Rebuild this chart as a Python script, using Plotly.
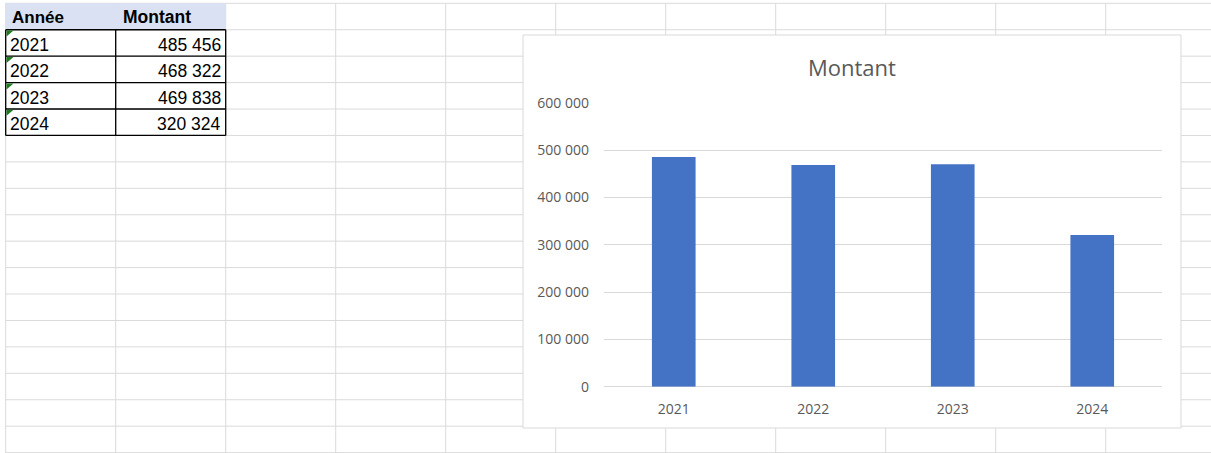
import plotly.graph_objects as go

# ---- data ----
annees = ["2021", "2022", "2023", "2024"]
montants = [485456, 468322, 469838, 320324]
header = ["Année", "Montant"]
chart_title = "Montant"
y_ticks = [0, 100000, 200000, 300000, 400000, 500000, 600000]

W, H = 1211, 453


def px(x):
    return x / W


def py(y):
    return 1 - y / H


def fmt(v):
    return f"{v:,}".replace(",", " ")


shapes = []
annotations = []
GRID = "#dadada"

# spreadsheet grid
col_x = [5.7 + 110 * k for k in range(11)]
row_y = [3.3 + 26.43 * k for k in range(18)]
for x in col_x:
    shapes.append(dict(type="line", xref="paper", yref="paper", x0=px(x), x1=px(x),
                       y0=py(row_y[0]), y1=py(H), line=dict(color=GRID, width=1), layer="below"))
for y in row_y:
    shapes.append(dict(type="line", xref="paper", yref="paper", x0=px(col_x[0]), x1=px(W),
                       y0=py(y), y1=py(y), line=dict(color=GRID, width=1), layer="below"))

# header fill
shapes.append(dict(type="rect", xref="paper", yref="paper", x0=px(col_x[0]), x1=px(col_x[2]),
                   y0=py(row_y[0]), y1=py(row_y[1]), fillcolor="#D9E1F2",
                   line=dict(width=0), layer="below"))

# table borders (data rows)
n = len(annees)
for i in range(n + 1):
    y = row_y[1 + i]
    shapes.append(dict(type="line", xref="paper", yref="paper", x0=px(col_x[0]), x1=px(col_x[2]),
                       y0=py(y), y1=py(y), line=dict(color="black", width=1.3), layer="below"))
for x in col_x[:3]:
    shapes.append(dict(type="line", xref="paper", yref="paper", x0=px(x), x1=px(x),
                       y0=py(row_y[1]), y1=py(row_y[1 + n]), line=dict(color="black", width=1.3), layer="below"))

# green triangles
for i in range(n):
    x0 = col_x[0] + 0.8
    y0 = row_y[1 + i] + 0.8
    path = f"M {px(x0)},{py(y0)} L {px(x0 + 7)},{py(y0)} L {px(x0)},{py(y0 + 6)} Z"
    shapes.append(dict(type="path", xref="paper", yref="paper", path=path,
                       fillcolor="#1E7B1E", line=dict(width=0), layer="below"))

TFONT = "Liberation Sans"
# header texts
annotations.append(dict(x=px(10), y=py((row_y[0] + row_y[1]) / 2 + 0.5), xref="paper", yref="paper",
                        text=f"<b>{header[0]}</b>", showarrow=False, xanchor="left", yanchor="middle",
                        font=dict(family=TFONT, size=17, color="black")))
annotations.append(dict(x=px(120.5), y=py((row_y[0] + row_y[1]) / 2 + 0.5), xref="paper", yref="paper",
                        text=f"<b>{header[1]}</b>", showarrow=False, xanchor="left", yanchor="middle",
                        font=dict(family=TFONT, size=17.5, color="black")))
for i, (a, m) in enumerate(zip(annees, montants)):
    yc = (row_y[1 + i] + row_y[2 + i]) / 2 + 2
    annotations.append(dict(x=px(8), y=py(yc), xref="paper", yref="paper", text=a,
                            showarrow=False, xanchor="left", yanchor="middle",
                            font=dict(family=TFONT, size=17.5, color="black")))
    annotations.append(dict(x=px(223), y=py(yc), xref="paper", yref="paper", text=fmt(m),
                            showarrow=False, xanchor="right", yanchor="middle",
                            font=dict(family=TFONT, size=17.5, color="black")))

# chart box
shapes.append(dict(type="rect", xref="paper", yref="paper", x0=px(523), x1=px(1181),
                   y0=py(428), y1=py(35), fillcolor="white",
                   line=dict(color="#d9d9d9", width=1), layer="below"))

CFONT = "Open Sans"
annotations.append(dict(x=px(852), y=py(67), xref="paper", yref="paper", text=chart_title,
                        showarrow=False, xanchor="center", yanchor="middle",
                        font=dict(family=CFONT, size=22, color="#595959")))

fig = go.Figure(go.Bar(x=annees, y=montants, marker=dict(color="#4472C4", line=dict(width=0)),
                       hoverinfo="skip"))

fig.update_layout(
    width=W, height=H,
    autosize=False,
    margin=dict(l=0, r=0, t=0, b=0, pad=0, autoexpand=False),
    paper_bgcolor="white",
    plot_bgcolor="rgba(0,0,0,0)",
    separators=", ",
    bargap=0.687,
    showlegend=False,
    shapes=shapes,
    annotations=annotations,
    xaxis=dict(domain=[px(604), px(1162)], type="category", showgrid=False, zeroline=False,
               showline=False, ticks="", ticklabelstandoff=12, automargin=False,
               tickfont=dict(family=CFONT, size=14, color="#595959")),
    yaxis=dict(domain=[py(386.7), py(102.7)], range=[0, 600000], tickvals=y_ticks,
               tickformat=",d", showgrid=True, gridcolor="#d9d9d9", gridwidth=1,
               zeroline=True, zerolinecolor="#d9d9d9", zerolinewidth=1, showline=False,
               ticks="", ticklabelstandoff=14, automargin=False,
               tickfont=dict(family=CFONT, size=14, color="#595959")),
)

post = (
    "document.body.style.margin='0';document.body.style.padding='0';"
    "document.body.style.overflow='hidden';"
)

fig.write_html("out.html", config={"displayModeBar": False}, post_script=post)
